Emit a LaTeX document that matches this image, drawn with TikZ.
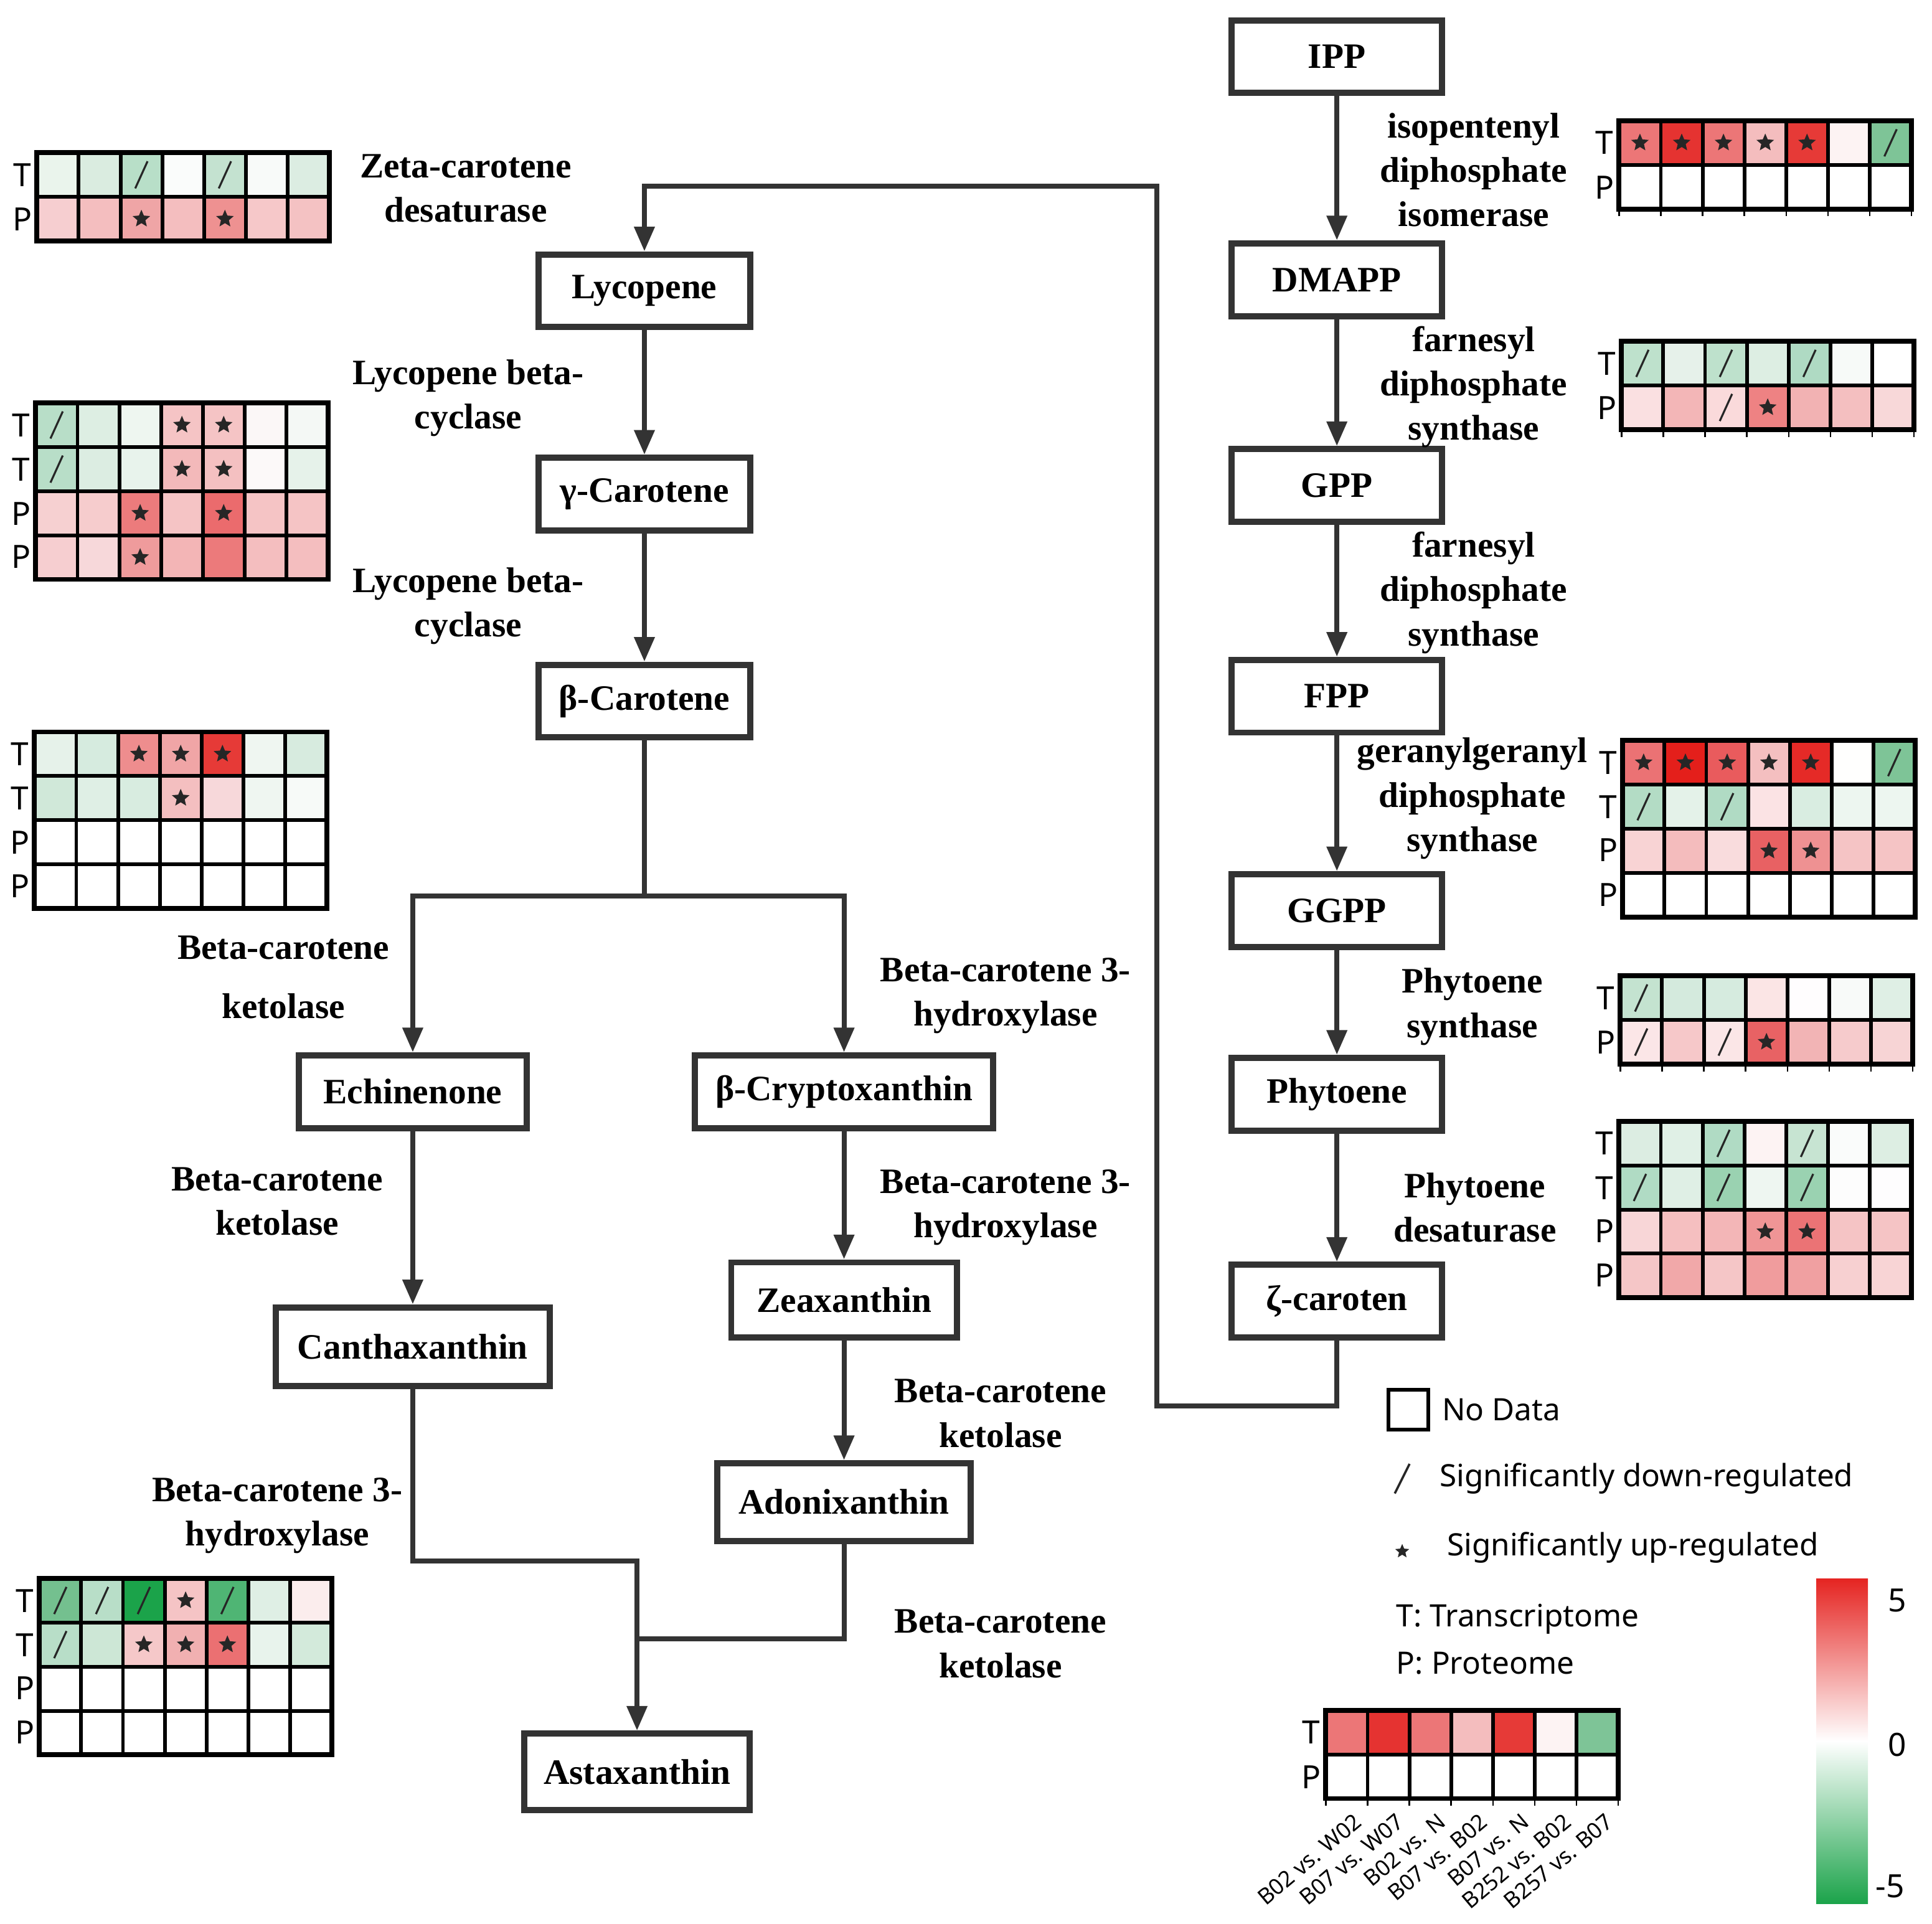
\documentclass[tikz,border=0pt]{standalone}
\usepackage{fontspec}
\setmainfont{Liberation Serif}
\newfontfamily\sansf{Noto Sans}
\usetikzlibrary{arrows.meta,shapes.geometric}
\definecolor{lcol}{HTML}{333333}
\definecolor{hmred}{HTML}{E52421}
\definecolor{hmgreen}{HTML}{1BA34A}
\def\cw{33.9}
\def\ch{35.8}
\newcommand\hrow[3]{%
  \foreach \c/\m [count=\i from 0] in {#3}{%
    \edef\tmpdef{\noexpand\definecolor{cellc}{HTML}{\c}}\tmpdef
    \filldraw[fill=cellc,draw=black,line width=1.5pt] ({#1+\i*\cw},{#2}) rectangle ++(\cw,\ch);
    \if s\m \draw[slashm] ({#1+(\i+0.5)*\cw},{#2+0.5*\ch}) ++(-5,11) -- ++(10,-22);\fi
    \if a\m \node[starm] at ({#1+(\i+0.5)*\cw},{#2+0.5*\ch}) {};\fi
  }}
\newcommand\hframe[3]{\draw[line width=2pt] (#1,#2) rectangle ++({7*\cw},{#3*\ch});}
\newcommand\hticks[2]{\foreach \k in {0,...,7}{\draw[line width=0.6pt] ({#1+\k*\cw},{#2}) -- ++(0,6);}}
\begin{document}
\begin{tikzpicture}[x=0.5pt,y=-0.5pt,
  box/.style={draw=lcol,line width=2.5pt,fill=white,inner sep=0pt,font=\fontsize{14.5}{18}\selectfont\bfseries},
  lab/.style={align=center,inner sep=0pt,font=\fontsize{14.5}{18}\selectfont\bfseries},
  arr/.style={draw=lcol,line width=2pt,-{Triangle[length=10pt,width=8pt]}},
  conn/.style={draw=lcol,line width=2pt},
  slashm/.style={draw=black!85,line width=0.8pt},
  starm/.style={star,star points=5,star point ratio=2.2,fill=black!85,inner sep=0pt,minimum size=7.5pt},
  tp/.style={inner sep=0pt,font=\sansf\fontsize{13}{15}\selectfont},
  leg/.style={inner sep=0pt,anchor=west,font=\sansf\fontsize{12.5}{15}\selectfont},
  rot/.style={inner sep=0pt,anchor=north east,rotate=40,font=\sansf\fontsize{9}{11}\selectfont}]
\useasboundingbox (0,0) rectangle (1568,1561);
\fill[white] (0,0) rectangle (1568,1561);

% ---------- boxes ----------
\node[box,minimum width=85.5pt,minimum height=29.5pt] (ipp) at (1085,46) {IPP};
\node[box,minimum width=85.5pt,minimum height=29.5pt] (dmapp) at (1085,227) {DMAPP};
\node[box,minimum width=85.5pt,minimum height=29.5pt] (gpp) at (1085,394) {GPP};
\node[box,minimum width=85.5pt,minimum height=29.5pt] (fpp) at (1085,565) {FPP};
\node[box,minimum width=85.5pt,minimum height=29.5pt] (ggpp) at (1085,739) {GGPP};
\node[box,minimum width=85.5pt,minimum height=29.5pt] (phyt) at (1085,888) {Phytoene};
\node[box,minimum width=85.5pt,minimum height=29.5pt] (zeta) at (1085,1056) {ζ-caroten};
\node[box,minimum width=86pt,minimum height=29.5pt] (lyc) at (523,236) {Lycopene};
\node[box,minimum width=86pt,minimum height=29.5pt] (gcar) at (523,401) {γ-Carotene};
\node[box,minimum width=86pt,minimum height=29.5pt] (bcar) at (523,569) {β-Carotene};
\node[box,minimum width=92.5pt,minimum height=29.5pt] (echi) at (335,886) {Echinenone};
\node[box,minimum width=121pt,minimum height=29.5pt] (bcry) at (685,886) {β-Cryptoxanthin};
\node[box,minimum width=91.5pt,minimum height=30.5pt] (zeax) at (685,1055) {Zeaxanthin};
\node[box,minimum width=103pt,minimum height=31.5pt] (adon) at (685,1219) {Adonixanthin};
\node[box,minimum width=111pt,minimum height=32pt] (cantha) at (335,1093) {Canthaxanthin};
\node[box,minimum width=91.5pt,minimum height=31pt] (asta) at (517,1438) {Astaxanthin};

% ---------- connectors ----------
\coordinate (c1) at (939,1141);
\coordinate (c2) at (939,151);
\coordinate (bj) at (523,727);
\coordinate (j1) at (517,1267);
\coordinate (j2) at (517,1330);
\draw[arr] (ipp.south) -- (dmapp.north);
\draw[arr] (dmapp.south) -- (gpp.north);
\draw[arr] (gpp.south) -- (fpp.north);
\draw[arr] (fpp.south) -- (ggpp.north);
\draw[arr] (ggpp.south) -- (phyt.north);
\draw[arr] (phyt.south) -- (zeta.north);
\draw[arr] (zeta.south) |- (c1) -- (c2) -| (lyc.north);
\draw[arr] (lyc.south) -- (gcar.north);
\draw[arr] (gcar.south) -- (bcar.north);
\draw[conn] (bcar.south) -- (bj);
\draw[arr] (bj) -| (echi.north);
\draw[arr] (bj) -| (bcry.north);
\draw[arr] (echi.south) -- (cantha.north);
\draw[arr] (bcry.south) -- (zeax.north);
\draw[arr] (zeax.south) -- (adon.north);
\draw[arr] (cantha.south) |- (j1) -- (asta.north);
\draw[conn] (adon.south) |- (j2);

% ---------- enzyme labels ----------
\node[lab] (iso) at (1196,138) {isopentenyl\\diphosphate\\isomerase};
\node[lab] (far1) at (1196,314) {farnesyl\\diphosphate\\synthase};
\node[lab] (far2) at (1196,481) {farnesyl\\diphosphate\\synthase};
\node[lab] (ggps) at (1195,648) {geranylgeranyl\\diphosphate\\synthase};
\node[lab] (psy) at (1195,817) {Phytoene\\synthase};
\node[lab] (pds) at (1197,980) {Phytoene\\desaturase};
\node[lab] (zds) at (378,153) {Zeta-carotene\\desaturase};
\node[lab] (lcy1) at (380,323) {Lycopene beta-\\cyclase};
\node[lab] (lcy2) at (380,492) {Lycopene beta-\\cyclase};
\node[lab] (bck1) at (230,793) {Beta-carotene\\[6pt]ketolase};
\node[lab] (bch1) at (816,808) {Beta-carotene 3-\\hydroxylase};
\node[lab] (bck2) at (225,975) {Beta-carotene\\ketolase};
\node[lab] (bch2) at (816,980) {Beta-carotene 3-\\hydroxylase};
\node[lab] (bck3) at (812,1147) {Beta-carotene\\ketolase};
\node[lab] (bch3) at (225,1230) {Beta-carotene 3-\\hydroxylase};
\node[lab] (bck4) at (812,1334) {Beta-carotene\\ketolase};

% ---------- heatmap A ----------
\hrow{30}{124}{EAF4EC/n,DAECE0/n,B8DFC8/s,FAFCFB/n,C4E2D0/s,F8FAF9/n,DCEDE2/n}
\hrow{30}{159.8}{F6CED0/n,F4BEBF/n,EFA5A6/a,F4BEBF/n,EE9191/a,F6C8C9/n,F4C2C3/n}
\hframe{30}{124}{2}
\node[tp] (aT1) at (18,142) {T};
\node[tp] (aP1) at (18,178) {P};

% ---------- heatmap B ----------
\hrow{29}{327}{B8DEC8/s,DDEEE3/n,EEF6F0/n,F5C4C5/a,F5C4C5/a,FBF7F7/n,F4F8F5/n}
\hrow{29}{362.8}{B8DEC8/s,DCEDE2/n,E8F3EC/n,F3B9BA/a,F4C0C1/a,FCF9F9/n,E6F2EA/n}
\hrow{29}{398.6}{F6D0D1/n,F6CCCD/n,EC7B7C/a,F5C4C5/n,EB6B6D/a,F5C4C5/n,F5C4C5/n}
\hrow{29}{434.4}{F6CED0/n,F7D8DA/n,EF9B9C/a,F3B5B6/n,EC7A7B/n,F4BEBF/n,F4BEBF/n}
\hframe{29}{327}{4}
\node[tp] (bT1) at (17,345) {T};
\node[tp] (bT2) at (17,381) {T};
\node[tp] (bP1) at (17,417) {P};
\node[tp] (bP2) at (17,452) {P};

% ---------- heatmap C ----------
\hrow{28}{594}{E6F2EA/n,D6EBDF/n,EE8D8E/a,F0A5A6/a,E63A37/a,EFF6F1/n,D7EBDF/n}
\hrow{28}{629.8}{D0E8D9/n,DFEFE5/n,D8ECE0/n,F4BFC0/a,F7D8DA/n,EFF6F1/n,F7FAF8/n}
\hrow{28}{665.6}{FFFFFF/n,FFFFFF/n,FFFFFF/n,FFFFFF/n,FFFFFF/n,FFFFFF/n,FFFFFF/n}
\hrow{28}{701.4}{FFFFFF/n,FFFFFF/n,FFFFFF/n,FFFFFF/n,FFFFFF/n,FFFFFF/n,FFFFFF/n}
\hframe{28}{594}{4}
\node[tp] (cT1) at (16,612) {T};
\node[tp] (cT2) at (16,648) {T};
\node[tp] (cP1) at (16,684) {P};
\node[tp] (cP2) at (16,719) {P};

% ---------- heatmap D ----------
\hrow{32}{1281}{74C08F/s,B8DEC8/s,1BA34A/s,F5C4C5/a,4FB574/s,DFEFE5/n,FBEDED/n}
\hrow{32}{1316.8}{B8DEC8/s,CDE7D6/n,F5C8C9/a,F1B0B1/a,EB7072/a,E8F3EC/n,D3EADB/n}
\hrow{32}{1352.6}{FFFFFF/n,FFFFFF/n,FFFFFF/n,FFFFFF/n,FFFFFF/n,FFFFFF/n,FFFFFF/n}
\hrow{32}{1388.4}{FFFFFF/n,FFFFFF/n,FFFFFF/n,FFFFFF/n,FFFFFF/n,FFFFFF/n,FFFFFF/n}
\hframe{32}{1281}{4}
\node[tp] (dT1) at (20,1299) {T};
\node[tp] (dT2) at (20,1335) {T};
\node[tp] (dP1) at (20,1370) {P};
\node[tp] (dP2) at (20,1406) {P};

% ---------- heatmap E ----------
\hrow{1314}{98}{EC7677/a,E53331/a,EC7677/a,F4BDBE/a,E63A37/a,FDF3F3/n,7EC497/s}
\hrow{1314}{133.8}{FFFFFF/n,FFFFFF/n,FFFFFF/n,FFFFFF/n,FFFFFF/n,FFFFFF/n,FFFFFF/n}
\hframe{1314}{98}{2}
\hticks{1314}{169.6}
\node[tp] (eT1) at (1302,116) {T};
\node[tp] (eP1) at (1302,152) {P};

% ---------- heatmap F ----------
\hrow{1316}{277}{BEE1CC/s,E6F1EA/n,BEE1CC/s,DDEEE3/n,AFDAC3/s,F7FAF8/n,FFFFFF/n}
\hrow{1316}{312.8}{FAE0E1/n,F3B6B7/n,FADADB/s,EE8283/a,F2B2B3/n,F4BFC0/n,F8D8D9/n}
\hframe{1316}{277}{2}
\hticks{1316}{348.6}
\node[tp] (fT1) at (1304,295) {T};
\node[tp] (fP1) at (1304,331) {P};

% ---------- heatmap G ----------
\hrow{1317}{601}{EB7274/a,E41F1B/a,E95B5D/a,F4BFC0/a,E52A27/a,FFFFFE/n,7EC497/s}
\hrow{1317}{636.8}{B3DCC5/s,E4F2E9/n,B0DBC4/s,FBE3E4/n,D9EDE1/n,EDF6F0/n,EDF6F0/n}
\hrow{1317}{672.6}{F8D3D4/n,F4BCBD/n,F9DCDD/n,E86163/a,EE9192/a,F5C4C5/n,F5C4C5/n}
\hrow{1317}{708.4}{FFFFFF/n,FFFFFF/n,FFFFFF/n,FFFFFF/n,FFFFFF/n,FFFFFF/n,FFFFFF/n}
\hframe{1317}{601}{4}
\node[tp] (gT1) at (1305,619) {T};
\node[tp] (gT2) at (1305,655) {T};
\node[tp] (gP1) at (1305,690) {P};
\node[tp] (gP2) at (1305,726) {P};

% ---------- heatmap H ----------
\hrow{1315}{792}{C4E3D0/s,D4EADD/n,D6EBDF/n,FBE5E5/n,FFFDFE/n,F8FAF9/n,DFEFE5/n}
\hrow{1315}{827.8}{FBE6E7/s,F6C8C9/n,FBE6E7/s,E86264/a,F2B4B5/n,F6CBCC/n,F7D4D5/n}
\hframe{1315}{792}{2}
\hticks{1315}{863.6}
\node[tp] (hT1) at (1303,810) {T};
\node[tp] (hP1) at (1303,846) {P};

% ---------- heatmap I ----------
\hrow{1314}{910}{DCEDE2/n,E0F0E6/n,B0DBC4/s,FDF3F3/n,C7E4D2/s,FAFCFB/n,DDEEE3/n}
\hrow{1314}{945.8}{B0DBC4/s,DFEFE5/n,9AD2B1/s,EEF6F1/n,9AD2B1/s,FDFDFD/n,FEFDFE/n}
\hrow{1314}{981.6}{F8D6D7/n,F5BFC0/n,F3B6B7/n,EF9596/a,EB7375/a,F5C4C5/n,F5C4C5/n}
\hrow{1314}{1017.4}{F5C6C7/n,F1A8A9/n,F5C6C7/n,F09C9D/n,F0A0A1/n,F7D0D1/n,F8D4D5/n}
\hframe{1314}{910}{4}
\node[tp] (iT1) at (1302,928) {T};
\node[tp] (iT2) at (1302,964) {T};
\node[tp] (iP1) at (1302,999) {P};
\node[tp] (iP2) at (1302,1035) {P};

% ---------- legend ----------
\node[draw=black,line width=1.5pt,minimum size=16pt,inner sep=0pt] (ndbox) at (1143,1144) {};
\node[leg] (ndtxt) at (1170,1144) {No Data};
\draw[slashm,line width=0.9pt] (1132,1212) -- (1144,1188);
\node[leg] (downtxt) at (1168,1200) {Significantly down-regulated};
\node[starm,minimum size=6pt] (upstar) at (1138,1259) {};
\node[leg] (uptxt) at (1174,1256) {Significantly up-regulated};
\node[leg] (ttxt) at (1133,1314) {T: Transcriptome};
\node[leg] (ptxt) at (1133,1350) {P: Proteome};

\hrow{1076}{1388}{EC7677/n,E53331/n,EC7677/n,F4BDBE/n,E63A37/n,FDF3F3/n,7EC497/n}
\hrow{1076}{1423.8}{FFFFFF/n,FFFFFF/n,FFFFFF/n,FFFFFF/n,FFFFFF/n,FFFFFF/n,FFFFFF/n}
\hframe{1076}{1388}{2}
\hticks{1076}{1459.6}
\node[tp] (lT1) at (1064,1406) {T};
\node[tp] (lP1) at (1064,1442) {P};
\node[rot] (r1) at (1098,1470) {B02 vs. W02};
\node[rot] (r2) at (1132,1470) {B07 vs. W07};
\node[rot] (r3) at (1166,1470) {B02 vs. N};
\node[rot] (r4) at (1200,1470) {B07 vs. B02};
\node[rot] (r5) at (1234,1470) {B07 vs. N};
\node[rot] (r6) at (1268,1470) {B252 vs. B02};
\node[rot] (r7) at (1302,1470) {B257 vs. B07};

% colour bar
\shade[top color=hmred,bottom color=hmgreen,middle color=white] (1474,1281) rectangle (1516,1545);
\node[tp] (cb5) at (1540,1299) {5};
\node[tp] (cb0) at (1540,1416) {0};
\node[tp] (cbm5) at (1534,1531) {-5};
\end{tikzpicture}
\end{document}
